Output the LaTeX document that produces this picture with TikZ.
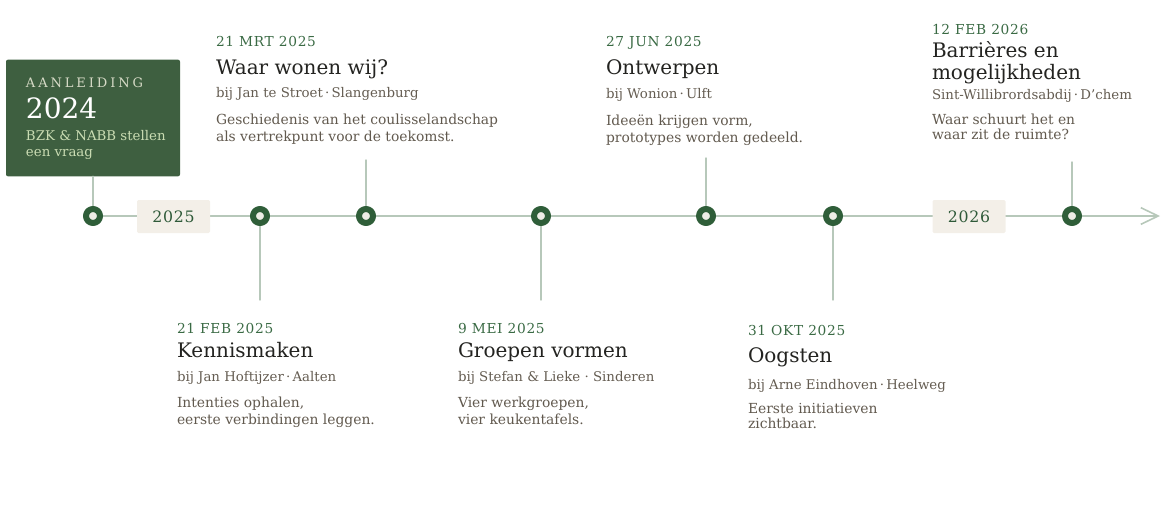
\documentclass[tikz,border=0pt]{standalone}
\usepackage{fontspec}
\setmainfont{DejaVu Serif}
\newfontfamily\dateFamily[LetterSpace=5]{DejaVu Serif}
\newfontfamily\capsFamily[LetterSpace=22]{DejaVu Serif}
\usepackage{tikz}
\usetikzlibrary{arrows.meta,positioning}
\definecolor{gBox}{HTML}{3E5F40}
\definecolor{gDot}{HTML}{2F5E39}
\definecolor{gLine}{HTML}{B7C8BA}
\definecolor{gDate}{HTML}{3A6A44}
\definecolor{gChip}{HTML}{F3EFE8}
\definecolor{gChipText}{HTML}{2F5A39}
\definecolor{gCenter}{HTML}{EEEDE6}
\definecolor{inkTitle}{HTML}{232320}
\definecolor{inkSub}{HTML}{645C51}
\definecolor{inkDesc}{HTML}{61594E}
\definecolor{boxCaps}{HTML}{D6DAC6}
\definecolor{boxText}{HTML}{CADCB3}
\tikzset{
  setT/.style={
    every node/.style={inner sep=0pt, outer sep=0pt},
    line cap=round, line join=round,
  },
  axisLine/.style={-{Straight Barb[length=13pt, width=12.5pt]}, gLine, line width=1.2pt},
  stem/.style={gLine, line width=1.1pt},
  tlDot/.style={circle, draw=gDot, line width=4.5pt, fill=gCenter, minimum size=10.5pt},
  yearChip/.style={
    fill=gChip, rounded corners=1pt, minimum width=54.75pt, minimum height=24.75pt,
    font=\dateFamily\fontsize{11.8}{13}\selectfont, text=gChipText,
  },
  introBox/.style={fill=gBox, rounded corners=1.5pt, minimum width=130.5pt, minimum height=87.5pt},
  tlDate/.style={font=\dateFamily\fontsize{10.3}{12}\selectfont, text=gDate, anchor=base west},
  tlTitle/.style={font=\fontsize{15}{17}\selectfont, text=inkTitle, anchor=base west},
  tlSub/.style={font=\fontsize{10}{12}\selectfont, text=inkSub, anchor=base west},
  tlDesc/.style={font=\fontsize{10.4}{12.5}\selectfont, text=inkDesc, anchor=base west},
}
\begin{document}
\begin{tikzpicture}[setT, x=0.75pt, y=-0.75pt]
\useasboundingbox (0,0) rectangle (1170,510);

% ============================================================
% Axis and stems (drawn first, dots and chips sit on top)
% ============================================================
\def\axisY{216}
\coordinate (axisEnd) at (1160,\axisY);
\coordinate (kmEnd)  at (260,300);
\coordinate (mrtEnd) at (366,160);
\coordinate (meiEnd) at (541,300);
\coordinate (junEnd) at (706,158);
\coordinate (oktEnd) at (833,300);
\coordinate (febEnd) at (1072,162);

\node[introBox] (intro) at (93,118) {};
\node (dotStart) at (93,\axisY) {};

\draw[axisLine] (dotStart.center) -- (axisEnd);
\draw[stem] (intro.south) -- (dotStart.center);
\draw[stem] (260,\axisY) -- (kmEnd);
\draw[stem] (366,\axisY) -- (mrtEnd);
\draw[stem] (541,\axisY) -- (meiEnd);
\draw[stem] (706,\axisY) -- (junEnd);
\draw[stem] (833,\axisY) -- (oktEnd);
\draw[stem] (1072,\axisY) -- (febEnd);

% year chips on the axis
\node[yearChip] (y2025) at (173.5,216.5) {2025};
\node[yearChip] (y2026) at (969,216.5) {2026};

% dots
\node[tlDot] (dStart) at (dotStart) {};
\node[tlDot] (dKm)  at (260,\axisY) {};
\node[tlDot] (dMrt) at (366,\axisY) {};
\node[tlDot] (dMei) at (541,\axisY) {};
\node[tlDot] (dJun) at (706,\axisY) {};
\node[tlDot] (dOkt) at (833,\axisY) {};
\node[tlDot] (dFeb) at (1072,\axisY) {};

% ============================================================
% Intro box: aanleiding 2024
% ============================================================
\node[font=\capsFamily\fontsize{9.8}{11}\selectfont, text=boxCaps, anchor=base west]
  (introCaps) at (26,87.3) {AANLEIDING};
\node[font=\fontsize{21}{24}\selectfont, text=white, below=23.25pt of introCaps.base west, anchor=base west]
  (introYear) {2024};
\node[font=\fontsize{10}{12}\selectfont, text=boxText, below=17pt of introYear.base west, anchor=base west]
  (introLineA) {BZK \& NABB stellen};
\node[font=\fontsize{10}{12}\selectfont, text=boxText, below=11.8pt of introLineA.base west, anchor=base west]
  (introLineB) {een vraag};

% ============================================================
% Events above the axis
% ============================================================
\node[tlDate] (mrtDate) at (216,46.7) {21 MRT 2025};
\node[tlTitle, below=20.5pt of mrtDate.base west, anchor=base west] (mrtTitle) {Waar wonen wij?};
\node[tlSub, below=17.8pt of mrtTitle.base west, anchor=base west] (mrtSub) {bij Jan te Stroet\,·\,Slangenburg};
\node[tlDesc, below=20pt of mrtSub.base west, anchor=base west] (mrtDescA) {Geschiedenis van het coulisselandschap};
\node[tlDesc, below=12.5pt of mrtDescA.base west, anchor=base west] (mrtDescB) {als vertrekpunt voor de toekomst.};

\node[tlDate] (junDate) at (606,47) {27 JUN 2025};
\node[tlTitle, below=20.5pt of junDate.base west, anchor=base west] (junTitle) {Ontwerpen};
\node[tlSub, below=17.8pt of junTitle.base west, anchor=base west] (junSub) {bij Wonion\,·\,Ulft};
\node[tlDesc, below=20.5pt of junSub.base west, anchor=base west] (junDescA) {Ideeën krijgen vorm,};
\node[tlDesc, below=12.8pt of junDescA.base west, anchor=base west] (junDescB) {prototypes worden gedeeld.};

\node[tlDate] (febDate) at (932,34.7) {12 FEB 2026};
\node[tlTitle, below=17pt of febDate.base west, anchor=base west] (febTitleA) {Barrières en};
\node[tlTitle, below=16.8pt of febTitleA.base west, anchor=base west] (febTitleB) {mogelijkheden};
\node[tlSub, below=14.5pt of febTitleB.base west, anchor=base west] (febSub) {Sint-Willibrordsabdij\,·\,D’chem};
\node[tlDesc, below=18.8pt of febSub.base west, anchor=base west] (febDescA) {Waar schuurt het en};
\node[tlDesc, below=11.8pt of febDescA.base west, anchor=base west] (febDescB) {waar zit de ruimte?};

% ============================================================
% Events below the axis
% ============================================================
\node[tlDate] (kmDate) at (177,333.7) {21 FEB 2025};
\node[tlTitle, below=17.7pt of kmDate.base west, anchor=base west] (kmTitle) {Kennismaken};
\node[tlSub, below=18pt of kmTitle.base west, anchor=base west] (kmSub) {bij Jan Hoftijzer\,·\,Aalten};
\node[tlDesc, below=20pt of kmSub.base west, anchor=base west] (kmDescA) {Intenties ophalen,};
\node[tlDesc, below=12.5pt of kmDescA.base west, anchor=base west] (kmDescB) {eerste verbindingen leggen.};

\node[tlDate] (meiDate) at (458,333.7) {9 MEI 2025};
\node[tlTitle, below=17.7pt of meiDate.base west, anchor=base west] (meiTitle) {Groepen vormen};
\node[tlSub, below=18pt of meiTitle.base west, anchor=base west] (meiSub) {bij Stefan \& Lieke · Sinderen};
\node[tlDesc, below=20pt of meiSub.base west, anchor=base west] (meiDescA) {Vier werkgroepen,};
\node[tlDesc, below=12.5pt of meiDescA.base west, anchor=base west] (meiDescB) {vier keukentafels.};

\node[tlDate] (oktDate) at (748,335.5) {31 OKT 2025};
\node[tlTitle, below=20.5pt of oktDate.base west, anchor=base west] (oktTitle) {Oogsten};
\node[tlSub, below=20pt of oktTitle.base west, anchor=base west] (oktSub) {bij Arne Eindhoven\,·\,Heelweg};
\node[tlDesc, below=18pt of oktSub.base west, anchor=base west] (oktDescA) {Eerste initiatieven};
\node[tlDesc, below=11.5pt of oktDescA.base west, anchor=base west] (oktDescB) {zichtbaar.};

\end{tikzpicture}
\end{document}
